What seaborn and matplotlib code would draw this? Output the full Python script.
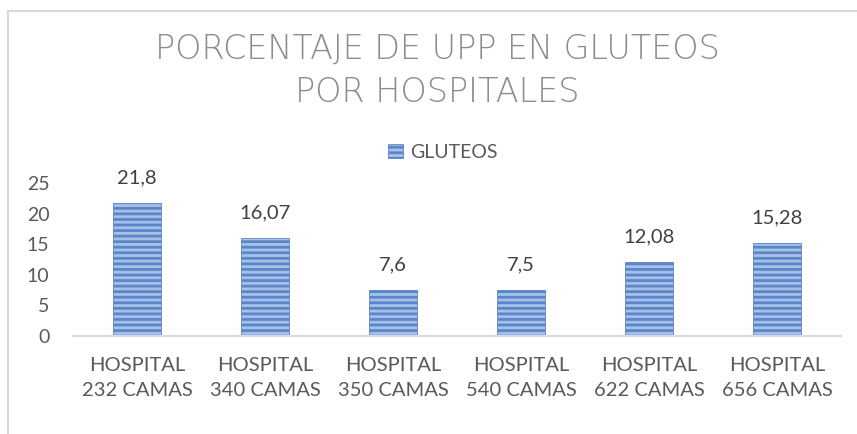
import matplotlib
matplotlib.use("Agg")
import matplotlib.pyplot as plt
import seaborn as sns
import pandas as pd
from matplotlib.patches import Patch
from matplotlib.lines import Line2D

categories = ["HOSPITAL\n232 CAMAS", "HOSPITAL\n340 CAMAS", "HOSPITAL\n350 CAMAS",
              "HOSPITAL\n540 CAMAS", "HOSPITAL\n622 CAMAS", "HOSPITAL\n656 CAMAS"]
values = [21.8, 16.07, 7.6, 7.5, 12.08, 15.28]
series_name = "GLUTEOS"
title = "PORCENTAJE DE UPP EN GLUTEOS\nPOR HOSPITALES"
yticks = [0, 5, 10, 15, 20, 25]

sns.set_theme(style="white")
plt.rcParams['font.family'] = ['Lato', 'DejaVu Sans']
plt.rcParams['hatch.linewidth'] = 2.0

W, H = 857, 434
fig = plt.figure(figsize=(W / 100, H / 100), dpi=100)
fig.patch.set_facecolor("white")
ax = fig.add_axes([73 / W, 1 - 336 / H, (841 - 73) / W, (336 - 183.5) / H])

df = pd.DataFrame({"cat": categories, "val": values})
face = "#a7c0e8"
hatchc = "#5a86c9"
sns.barplot(data=df, x="cat", y="val", ax=ax, color=face, width=0.38,
            saturation=1, hatch="---", edgecolor=hatchc, linewidth=0.6)
for p in ax.patches:
    p.set_facecolor(face)
    p.set_edgecolor(hatchc)
    p.set_hatch("---")

ax.set_ylim(0, 25)
ax.set_yticks(yticks)
ax.set_xlim(-0.5, len(categories) - 0.5)
ax.set_xlabel("")
ax.set_ylabel("")
for s in ["top", "right", "left"]:
    ax.spines[s].set_visible(False)
ax.spines["bottom"].set_color("#d9d9d9")
ax.spines["bottom"].set_linewidth(1.5)
ax.tick_params(axis="y", length=0, pad=17, labelsize=14, labelcolor="#595959")
ax.tick_params(axis="x", length=0, pad=15, labelsize=14.5, labelcolor="#595959")
for lab in ax.get_xticklabels():
    lab.set_linespacing(1.55)

for i, v in enumerate(values):
    ax.annotate(str(v).replace(".", ","), (i, v), xytext=(0, 12), textcoords="offset points",
                ha="center", va="bottom", fontsize=14.5, color="#404040")

fig.text(0.51, 1 - 71 / H, title, ha="center", va="center", fontsize=24,
         color="#8c8c8c", fontweight="light", family=["DejaVu Sans"], linespacing=1.42)

handle = Patch(facecolor=face, edgecolor=hatchc, hatch="---", linewidth=0.6)
fig.legend([handle], [series_name], loc="center", bbox_to_anchor=(443 / W, 1 - 152 / H),
           frameon=False, fontsize=14, handlelength=0.75, handleheight=0.75,
           handletextpad=0.4, labelcolor="#595959")

# chart border (left and top)
fig.add_artist(Line2D([8 / W, 8 / W], [0, 1 - 11 / H], color="#d9d9d9", lw=1.5,
                      transform=fig.transFigure))
fig.add_artist(Line2D([8 / W, 1], [1 - 11 / H, 1 - 11 / H], color="#d9d9d9", lw=1.5,
                      transform=fig.transFigure))

fig.savefig("out.png", dpi=100, facecolor="white")
